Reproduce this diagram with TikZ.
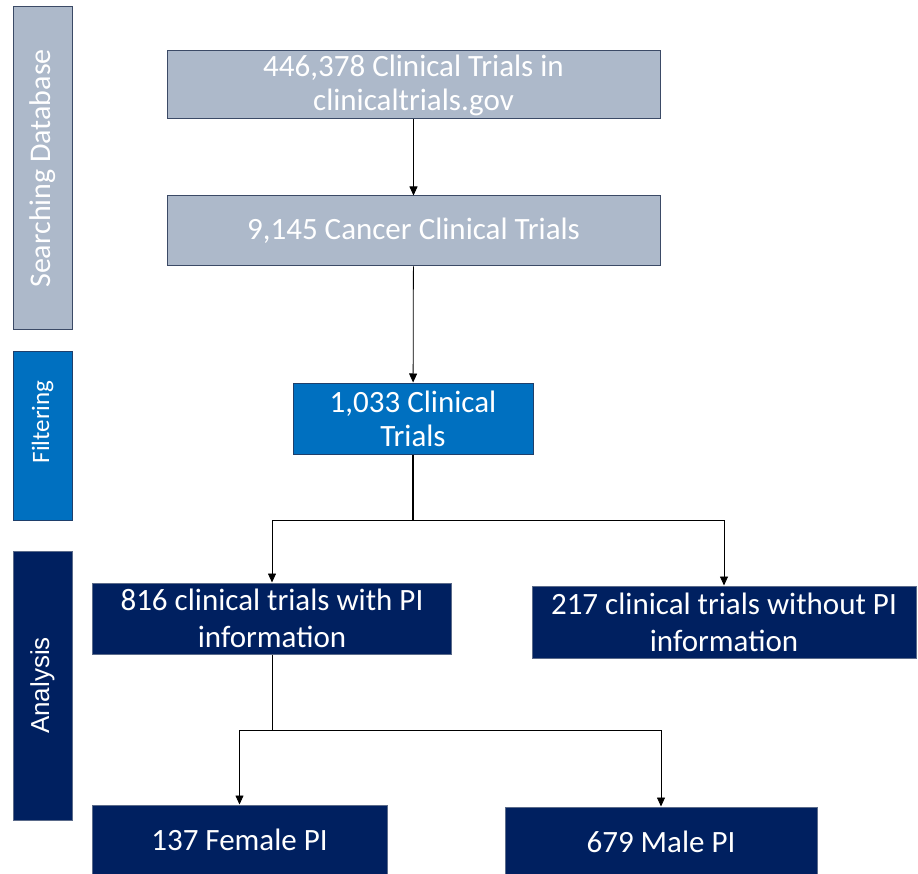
\documentclass[tikz,border=0pt]{standalone}
\usepackage{fontspec}
\setmainfont{Carlito}
\newfontfamily\arialfont{Liberation Sans}
\usetikzlibrary{arrows.meta, positioning}
\definecolor{slate}{HTML}{ADB9CA}
\definecolor{slateedge}{HTML}{3B4A66}
\definecolor{ocean}{HTML}{0070C0}
\definecolor{oceanedge}{HTML}{1F3F6B}
\definecolor{navy}{HTML}{002060}
\definecolor{navyedge}{HTML}{5B6B8A}

\begin{document}
\begin{tikzpicture}[x=1pt, y=-1pt,
        box/.style={draw, line width=1pt, text=white, align=center, inner sep=0pt, font=\fontsize{31}{34}\selectfont},
        greybox/.style={box, fill=slate, draw=slateedge},
        bluebox/.style={box, fill=ocean, draw=oceanedge},
        navybox/.style={box, fill=navy, draw=navyedge, font=\fontsize{31}{37}\selectfont},
        side/.style={draw, line width=1pt, minimum width=59pt},
        sidetext/.style={rotate=90, text=white, inner sep=0pt},
        link/.style={draw, line width=0.8pt},
        arr/.style={link, -{Triangle[width=8pt, length=9pt]}}
    ]
    \useasboundingbox (0,0) rectangle (918,874);
    \clip (0,0) rectangle (918,874);

    % Stage bars on the left
    \node[side, fill=slate, draw=slateedge, minimum height=323pt] (search) at (42.5,168.5) {};
    \node[sidetext, font=\fontsize{30}{34}\selectfont] (searchlbl) at (search.center) {Searching Database};
    \node[side, fill=ocean, draw=oceanedge, minimum height=168pt] (filter) at (42.5,436) {};
    \node[sidetext, font=\fontsize{25}{30}\selectfont] (filterlbl) at (42.5,422) {Filtering};
    \node[side, fill=navy, draw=navyedge, minimum height=269pt] (analysis) at (42.5,685.5) {};
    \node[sidetext, font=\arialfont\fontsize{26}{30}\selectfont] (analysislbl) at (analysis.center) {Analysis};

    % Searching database
    \node[greybox, minimum width=493pt, minimum height=68pt] (all) at (413.5,85) {446,378 Clinical Trials in\\clinicaltrials.gov};
    \node[greybox, minimum width=493pt, minimum height=70pt] (cancer) at (413.5,231) {9,145 Cancer Clinical Trials};

    % Filtering
    \node[bluebox, minimum width=240pt, minimum height=71pt] (filtered) at (413,418.5) {1,033 Clinical\\Trials};

    % Analysis
    \node[navybox, minimum width=359pt, minimum height=71pt] (withpi) at (272,618.5) {816 clinical trials with PI\\information};
    \node[navybox, minimum width=384pt, minimum height=72pt] (withoutpi) at (724,622) {217 clinical trials without PI\\information};
    \node[navybox, minimum width=295pt, minimum height=70pt] (female) at (239.5,840) {137 Female PI};
    \node[navybox, minimum width=312pt, minimum height=70pt] (male) at (661,842) {679 Male PI};

    % Connections
    \draw[arr] (all) -- (cancer);
    \draw[arr] (cancer) -- (filtered);
    \coordinate (split1) at (filtered.south |- 0,520);
    \draw[link, line width=1.5pt] (filtered.south) -- (split1);
    \draw[arr] (split1) -| (withpi.north);
    \draw[arr] (split1) -| (withoutpi.north);
    \coordinate (split2) at (withpi.south |- 0,730);
    \draw[link] (withpi.south) -- (split2);
    \draw[arr] (split2) -| (female.north);
    \draw[arr] (split2) -| (male.north);

\end{tikzpicture}
\end{document}
